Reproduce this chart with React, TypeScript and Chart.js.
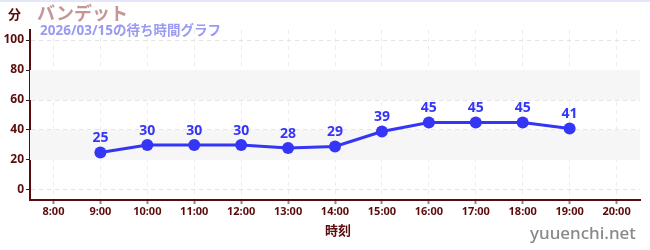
import React, { useEffect, useRef } from "react";
import { Chart, registerables } from "chart.js";

Chart.register(...registerables);

const categories = ["8:00", "9:00", "10:00", "11:00", "12:00", "13:00", "14:00", "15:00", "16:00", "17:00", "18:00", "19:00", "20:00"];
const waitTimes: (number | null)[] = [null, 25, 30, 30, 30, 28, 29, 39, 45, 45, 45, 41, null];
const yTickValues = [0, 10, 20, 30, 40, 50, 60, 70, 80, 90, 100];
const bands: [number, number][] = [[20, 40], [60, 80]];

const titleText = "バンデット";
const subtitleText = "2026/03/15の待ち時間グラフ";
const yUnit = "分";
const xTitle = "時刻";
const siteName = "yuuenchi.net";

const FONT = "'Noto Sans', 'Noto Sans CJK JP', sans-serif";
const MAROON = "#5a0c0c";
const BLUE = "#3535f5";

const bandPlugin = {
  id: "bands",
  beforeDatasetsDraw(chart: any) {
    const { ctx, chartArea, scales } = chart;
    ctx.save();
    ctx.fillStyle = "#f6f6f6";
    for (const [a, b] of bands) {
      const y1 = scales.y.getPixelForValue(b);
      const y2 = scales.y.getPixelForValue(a);
      ctx.fillRect(chartArea.left, y1, chartArea.right - chartArea.left, y2 - y1);
    }
    ctx.restore();
  },
};

const labelPlugin = {
  id: "pointLabels",
  afterDatasetsDraw(chart: any) {
    const { ctx } = chart;
    const meta = chart.getDatasetMeta(0);
    ctx.save();
    ctx.font = `bold 14px ${FONT}`;
    ctx.fillStyle = BLUE;
    ctx.textAlign = "center";
    ctx.textBaseline = "bottom";
    meta.data.forEach((pt: any, i: number) => {
      const v = waitTimes[i];
      if (v == null) return;
      ctx.fillText(String(v), pt.x, pt.y - 7);
    });
    ctx.restore();
  },
};

export default function App() {
  const ref = useRef<HTMLCanvasElement>(null);
  useEffect(() => {
    if (!ref.current) return;
    const chart = new Chart(ref.current, {
      type: "line",
      data: {
        labels: categories,
        datasets: [
          {
            data: waitTimes,
            borderColor: BLUE,
            backgroundColor: BLUE,
            borderWidth: 3,
            pointRadius: 6,
            pointBackgroundColor: BLUE,
            pointBorderColor: BLUE,
            pointBorderWidth: 0,
            spanGaps: false,
            tension: 0,
          },
        ],
      },
      options: {
        animation: false,
        responsive: false,
        maintainAspectRatio: false,
        layout: { padding: { top: 30, right: 10, left: 0, bottom: 0 } },
        plugins: { legend: { display: false }, tooltip: { enabled: false }, title: { display: false } },
        scales: {
          x: {
            type: "category",
            offset: true,
            afterFit: (s: any) => { s.height = 50; },
            grid: {
              display: true,
              offset: false,
              color: "#ececec",
              tickColor: "#888888",
              tickLength: 4,
              tickWidth: 2,
              lineWidth: 1,
            } as any,
            border: { display: true, color: MAROON, width: 2, dash: [4, 4] } as any,
            ticks: {
              color: MAROON,
              font: { family: FONT, size: 11, weight: "bold" },
              padding: 1,
              maxRotation: 0,
              autoSkip: false,
            },
          },
          y: {
            type: "linear",
            min: -6.67,
            max: 106.67,
            afterFit: (s: any) => { s.width = 30; },
            afterBuildTicks: (s: any) => { s.ticks = yTickValues.map((v) => ({ value: v })); },
            grid: {
              color: (c: any) => (c.tick && c.tick.value % 20 === 0 ? "#e4e4e4" : "rgba(0,0,0,0)"),
              tickColor: (c: any) => (c.tick && c.tick.value % 20 === 0 ? "#222222" : "#e03030"),
              tickLength: 4,
              lineWidth: 1,
            } as any,
            border: { display: true, color: MAROON, width: 2, dash: [4, 4] } as any,
            ticks: {
              color: MAROON,
              font: { family: FONT, size: 12, weight: "bold" },
              padding: 2,
              callback: (v: any) => (Number(v) % 20 === 0 ? String(v) : ""),
            },
          },
        },
      },
      plugins: [bandPlugin, labelPlugin],
    });
    return () => chart.destroy();
  }, []);

  const abs: React.CSSProperties = { position: "absolute", whiteSpace: "nowrap", fontFamily: FONT, fontWeight: "bold", lineHeight: 1 };
  return (
    <div style={{ position: "fixed", left: 0, top: 0, width: 650, height: 250, background: "#fff", overflow: "hidden" }}>
      <div style={{ position: "absolute", left: 0, top: 0, width: 650, height: 2, background: "#e6e6fa" }} />
      <canvas ref={ref} width={650} height={250} style={{ position: "absolute", left: 0, top: 0, width: 650, height: 250 }} />
      <div style={{ ...abs, left: 8, top: 8, fontSize: 13, color: MAROON }}>{yUnit}</div>
      <div style={{ ...abs, left: 37, top: 4, fontSize: 18, color: "#c49797" }}>{titleText}</div>
      <div style={{ ...abs, left: 40, top: 24, fontSize: 13.5, color: "#9a9af2" }}>{subtitleText}</div>
      <div style={{ ...abs, left: 325, top: 224, fontSize: 13, color: MAROON }}>{xTitle}</div>
      <div style={{ ...abs, left: 530, top: 224, fontSize: 17, fontWeight: 500, color: "#888888" }}>{siteName}</div>
    </div>
  );
}
